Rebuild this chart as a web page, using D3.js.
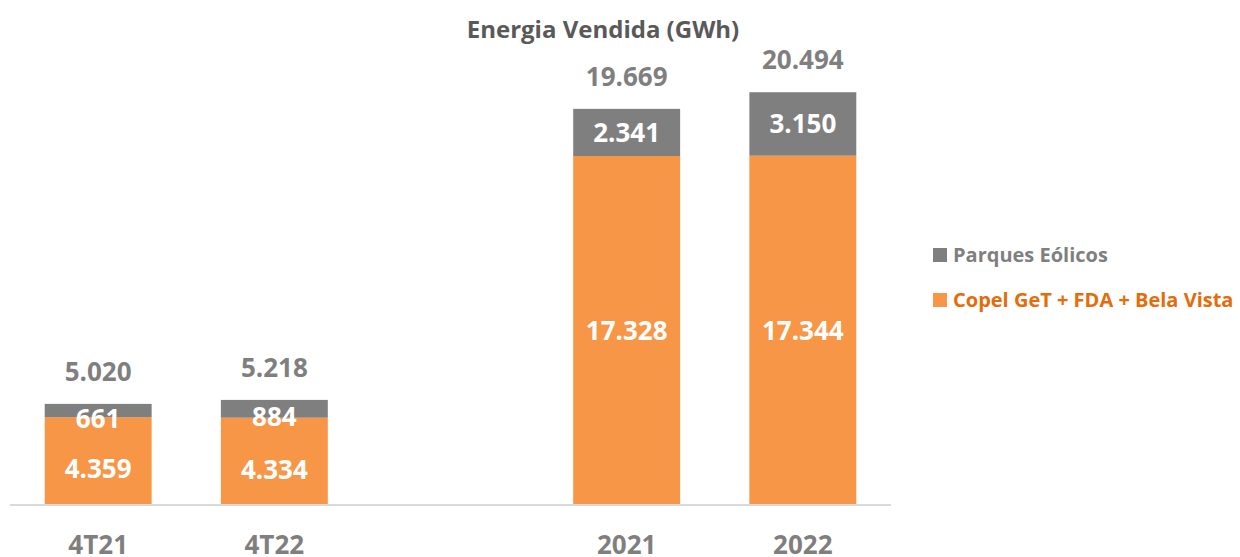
<!DOCTYPE html>
<html>
<head>
<meta charset="utf-8">
<script src="https://cdn.jsdelivr.net/npm/d3@7"></script>
<style>
  body { margin: 0; background: #fff; }
  svg { font-family: "Open Sans", "Liberation Sans", sans-serif; font-weight: bold; }
</style>
</head>
<body>
<svg width="1240" height="557"></svg>
<script>
// categories ("" is the empty slot between quarters and years)
var categories = ["4T21", "4T22", "", "2021", "2022"];
var copelGet = [4359, 4334, null, 17328, 17344];
var parquesEolicos = [661, 884, null, 2341, 3150];
var totals = [5020, 5218, null, 19669, 20494];
var seriesNames = ["Parques Eólicos", "Copel GeT + FDA + Bela Vista"];

var orange = "#f79646", grey = "#7f7f7f";

var svg = d3.select("svg");
var margin = {left: 10, right: 349, baseline: 505};

var x = d3.scaleBand()
    .domain(categories)
    .range([margin.left, 1240 - margin.right])
    .paddingInner(0.393)
    .paddingOuter(0.197);

var y = d3.scaleLinear()
    .domain([0, 17328])
    .range([margin.baseline, 156]);

var fmt = function(v) { return d3.format(",")(v).replace(/,/g, "."); };

var data = categories.map(function(c, i) {
    return {cat: c, a: copelGet[i], b: parquesEolicos[i], t: totals[i], quarter: i < 2};
}).filter(function(d) { return d.a != null; });

// title
svg.append("text")
    .attr("x", 603).attr("y", 38)
    .attr("text-anchor", "middle")
    .attr("font-size", 24)
    .attr("fill", "#595959")
    .text("Energia Vendida (GWh)");

// orange segments
svg.selectAll(".bar-a").data(data).enter().append("rect")
    .attr("class", "bar-a")
    .attr("x", function(d) { return x(d.cat); })
    .attr("width", x.bandwidth())
    .attr("y", function(d) { return y(d.a); })
    .attr("height", function(d) { return y(0) - y(d.a); })
    .attr("fill", orange);

// grey segments
svg.selectAll(".bar-b").data(data).enter().append("rect")
    .attr("class", "bar-b")
    .attr("x", function(d) { return x(d.cat); })
    .attr("width", x.bandwidth())
    .attr("y", function(d) { return y(d.a + d.b); })
    .attr("height", function(d) { return y(d.a) - y(d.a + d.b); })
    .attr("fill", grey);

// axis line
svg.append("line")
    .attr("x1", margin.left).attr("x2", 1240 - margin.right)
    .attr("y1", y(0)).attr("y2", y(0))
    .attr("stroke", "#d9d9d9").attr("stroke-width", 2);

// x labels
var xAxis = svg.append("g")
    .attr("transform", "translate(0," + y(0) + ")")
    .call(d3.axisBottom(x).tickSize(0).tickPadding(0));
xAxis.select(".domain").remove();
xAxis.selectAll("text")
    .attr("y", 49)
    .attr("dy", 0)
    .attr("font-size", 26)
    .attr("font-family", "Open Sans, sans-serif")
    .attr("font-weight", "bold")
    .attr("fill", grey);

// segment labels
function segLabel(cls, top, bottom, val) {
    svg.selectAll("." + cls).data(data).enter().append("text")
        .attr("class", cls)
        .attr("x", function(d) { return x(d.cat) + x.bandwidth() / 2; })
        .attr("y", function(d) {
            var c = (y(top(d)) + y(bottom(d))) / 2;
            return c + (d.quarter ? 8 : 0);
        })
        .attr("dy", "0.36em")
        .attr("text-anchor", "middle")
        .attr("font-size", 26)
        .attr("fill", "#fff")
        .text(function(d) { return fmt(val(d)); });
}
segLabel("lab-a", function(d) { return d.a; }, function() { return 0; }, function(d) { return d.a; });
segLabel("lab-b", function(d) { return d.a + d.b; }, function(d) { return d.a; }, function(d) { return d.b; });

// totals
svg.selectAll(".tot").data(data).enter().append("text")
    .attr("class", "tot")
    .attr("x", function(d) { return x(d.cat) + x.bandwidth() / 2; })
    .attr("y", function(d) { return y(d.a + d.b) - 23; })
    .attr("text-anchor", "middle")
    .attr("font-size", 26)
    .attr("fill", grey)
    .text(function(d) { return fmt(d.t); });

// legend
var legend = svg.append("g").attr("transform", "translate(933,0)");
var legendColors = [grey, orange], legendText = [grey, "#e46c0a"], legendY = [255, 300];
seriesNames.forEach(function(name, i) {
    legend.append("rect")
        .attr("x", 0).attr("y", legendY[i] - 7)
        .attr("width", 14).attr("height", 14)
        .attr("fill", legendColors[i]);
    legend.append("text")
        .attr("x", 20).attr("y", legendY[i])
        .attr("dy", "0.36em")
        .attr("font-size", 20)
        .attr("fill", legendText[i])
        .text(name);
});
</script>
</body>
</html>
